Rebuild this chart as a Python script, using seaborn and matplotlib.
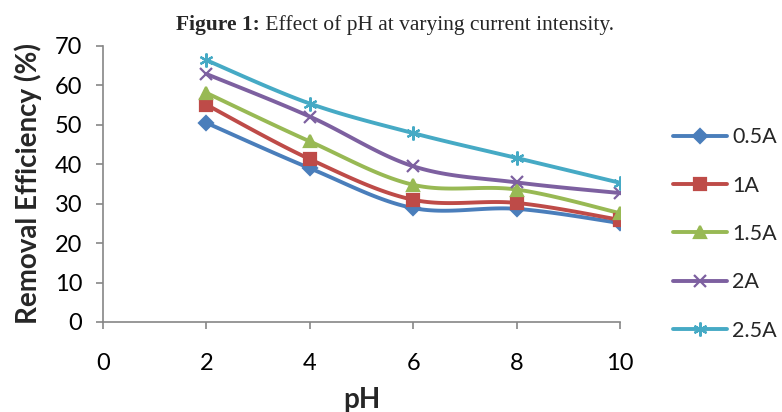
import numpy as np
import pandas as pd
import matplotlib
matplotlib.use("Agg")
import matplotlib.pyplot as plt
from matplotlib.lines import Line2D
import seaborn as sns

ph = [2, 4, 6, 8, 10]
series_names = ["0.5A", "1A", "1.5A", "2A", "2.5A"]
eff_05 = [50.5, 39.0, 28.9, 28.7, 25.1]
eff_10 = [55.1, 41.3, 31.0, 30.2, 25.9]
eff_15 = [58.1, 45.8, 34.8, 33.6, 27.6]
eff_20 = [62.9, 52.1, 39.5, 35.4, 32.7]
eff_25 = [66.4, 55.4, 47.9, 41.6, 35.3]
values = [eff_05, eff_10, eff_15, eff_20, eff_25]

colors = ["#4a7ebb", "#be4b48", "#98b954", "#7d60a0", "#46aac5"]
markers = ["D", "s", "^", "x", (6, 2, 0)]
msizes = [7, 9, 9, 9, 10]

sns.set_theme(style="white")
plt.rcParams["font.family"] = ["Lato", "DejaVu Sans"]


def smooth(xs, ys, n=30):
    """Catmull-Rom style smoothed path through the points."""
    xs = np.asarray(xs, float)
    ys = np.asarray(ys, float)
    P = np.column_stack([xs, ys])
    P = np.vstack([P[0], P, P[-1]])
    out = []
    t = np.linspace(0, 1, n)[:, None]
    for i in range(1, len(P) - 2):
        p0, p1, p2, p3 = P[i - 1], P[i], P[i + 1], P[i + 2]
        c1 = p1 + (p2 - p0) / 6
        c2 = p2 - (p3 - p1) / 6
        seg = ((1 - t) ** 3) * p1 + 3 * ((1 - t) ** 2) * t * c1 + 3 * (1 - t) * t ** 2 * c2 + t ** 3 * p2
        out.append(seg if i == 1 else seg[1:])
    return np.vstack(out)


rows = []
for name, ys in zip(series_names, values):
    path = smooth(ph, ys)
    for k, (x, y) in enumerate(path):
        rows.append({"pH": x, "eff": y, "series": name, "idx": k})
curves = pd.DataFrame(rows)
pts = pd.DataFrame([{"pH": x, "eff": y, "series": name}
                    for name, ys in zip(series_names, values) for x, y in zip(ph, ys)])

fig = plt.figure(figsize=(7.82, 4.12), dpi=100)
ax = fig.add_axes([103 / 782, 1 - 322 / 412, (620 - 103) / 782, (322 - 46) / 412])

palette = dict(zip(series_names, colors))
sns.lineplot(data=curves, x="pH", y="eff", hue="series", units="series", estimator=None,
             sort=False, palette=palette, linewidth=2.8, legend=False, ax=ax)
for name, m, ms, c in zip(series_names, markers, msizes, colors):
    sub = pts[pts["series"] == name]
    ax.plot(sub["pH"], sub["eff"], linestyle="none", marker=m, markersize=ms,
            color=c, markeredgecolor=c, markeredgewidth=1.6, zorder=3)

ax.set_xlim(0, 10)
ax.set_ylim(0, 70)
ax.set_xticks([0, 2, 4, 6, 8, 10])
ax.set_yticks(range(0, 71, 10))
ax.tick_params(axis="both", labelsize=17, colors="#868686", labelcolor="black",
               direction="out", length=5, width=1.2, bottom=True, left=True)
ax.tick_params(axis="x", pad=17)
ax.tick_params(axis="y", pad=10)
for side in ["top", "right"]:
    ax.spines[side].set_visible(False)
for side in ["left", "bottom"]:
    ax.spines[side].set_color("#868686")
    ax.spines[side].set_linewidth(1.2)
ax.set_xlabel("pH", fontsize=20, fontweight="bold")
ax.set_ylabel("Removal Efficiency (%)", fontsize=20, fontweight="bold")
ax.xaxis.set_label_coords(0.5, -(400 - 322) / 276, transform=ax.transAxes)
ax.xaxis.label.set_va("center")
ax.yaxis.set_label_coords(-(103 - 28) / 517, 0.5)
ax.yaxis.label.set_va("center")

handles = [Line2D([0], [0], color=c, marker=m, markersize=ms, linewidth=2.8,
                  markeredgecolor=c, markeredgewidth=1.6)
           for c, m, ms in zip(colors, markers, msizes)]
fig.legend(handles, series_names, loc="center left", bbox_to_anchor=(673 / 782, 1 - 234 / 412),
           frameon=False, fontsize=15.5, handlelength=2.5, labelspacing=1.32, handletextpad=0.25,
           borderaxespad=0, borderpad=0)

# title with bold prefix
fig.canvas.draw()
r = fig.canvas.get_renderer()
t1 = fig.text(0, 0, "Figure 1:", fontsize=15.5, fontweight="bold", family="Liberation Serif",
              va="center")
t2 = fig.text(0, 0, " Effect of pH at varying current intensity.", fontsize=15.5,
              family="Liberation Serif", va="center")
w1 = t1.get_window_extent(r).width
w2 = t2.get_window_extent(r).width
x0 = 395 - (w1 + w2) / 2
ty = 1 - 25 / 412
t1.set_position((x0 / 782, ty))
t2.set_position(((x0 + w1) / 782, ty))

fig.savefig("out.png", dpi=100)
